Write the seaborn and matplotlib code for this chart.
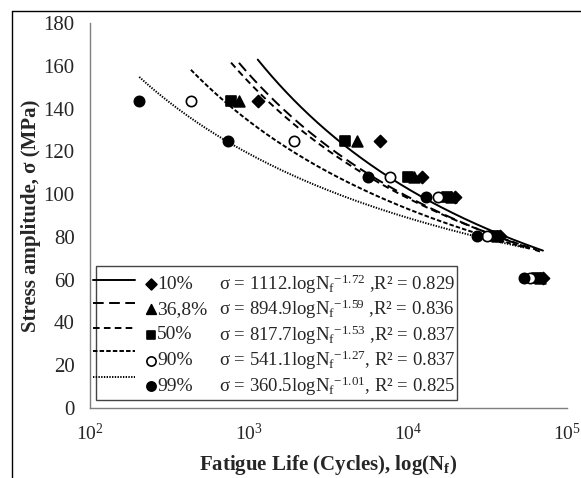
import numpy as np
import pandas as pd
import matplotlib
matplotlib.use('Agg')
from matplotlib import pyplot as plt
from matplotlib.lines import Line2D
from matplotlib.patches import Rectangle
from matplotlib.ticker import LogLocator, NullLocator, MultipleLocator
import seaborn as sns

# probability levels and fitted curves sigma = A * (log Nf)^B
probs = ['10%', '36,8%', '50%', '90%', '99%']
coef_a = [1112, 894.9, 817.7, 541.1, 360.5]
coef_b = [-1.72, -1.59, -1.53, -1.27, -1.01]
eq_head = ['σ = 1112.logN', 'σ = 894.9logN', 'σ = 817.7logN', 'σ = 541.1logN', 'σ = 360.5logN']
eq_tail = [' ,R² = 0.829', ' ,R² = 0.836', ' ,R² = 0.837', ', R² = 0.837', ', R² = 0.825']

# stress levels tested (MPa)
stress = [143.4, 124.8, 108.0, 98.6, 80.6, 60.6]

# fatigue life per probability level (cycles)
life_10 = [1135, 6670, 12200, 19800, 37900, 70600]
life_368 = [865, 4750, 10950, 18600, 36300, 67600]
life_50 = [771, 4020, 10000, 17600, 34700, 64700]
life_90 = [431, 1930, 7710, 15500, 31400, 58500]
life_99 = [204, 735, 5620, 12970, 27000, 53700]
lives = [life_10, life_368, life_50, life_90, life_99]

markers = ['D', '^', 's', 'o', 'o']
marker_size = [38, 60, 50, 55, 55]
face = ['black', 'black', 'black', 'white', 'black']
dash_map = {'10%': '', '36,8%': (5.5, 2.8), '50%': (3.4, 2.2), '90%': (2.3, 1.1), '99%': (0.7, 0.7)}

sns.set_style('white')
plt.rcParams['font.family'] = ['Liberation Serif', 'DejaVu Serif']
plt.rcParams['mathtext.fontset'] = 'custom'
plt.rcParams['mathtext.rm'] = 'Liberation Serif'
plt.rcParams['mathtext.it'] = 'Liberation Serif:italic'
plt.rcParams['mathtext.bf'] = 'Liberation Serif:bold'
plt.rcParams['mathtext.default'] = 'regular'

# curve table built from the fitted equations
rows = []
for p, a, b, life in zip(probs, coef_a, coef_b, lives):
    nf = np.logspace(np.log10(min(life)), np.log10(max(life)), 200)
    for n in nf:
        rows.append([p, n, a * np.log10(n) ** b])
curves = pd.DataFrame(rows, columns=['prob', 'life', 'stress'])

fig = plt.figure(figsize=(5.81, 4.78), dpi=100)
ax = fig.add_axes([90 / 581, 1 - 408 / 478, 477 / 581, 385 / 478])

sns.lineplot(data=curves, x='life', y='stress', style='prob', dashes=dash_map,
             color='black', lw=1.4, legend=False, ax=ax, estimator=None, sort=False)

for life, m, s, fc in zip(lives, markers, marker_size, face):
    sns.scatterplot(x=life, y=stress, marker=m, s=s, color=fc, edgecolor='black',
                    linewidth=1.2, ax=ax, zorder=4)

ax.set_xscale('log')
ax.set_xlim(100, 1e5)
ax.set_ylim(0, 180)
ax.xaxis.set_major_locator(LogLocator(base=10, numticks=10))
ax.xaxis.set_minor_locator(NullLocator())
ax.yaxis.set_major_locator(MultipleLocator(20))

for side in ['top', 'right']:
    ax.spines[side].set_visible(False)
for side in ['left', 'bottom']:
    ax.spines[side].set_color('#7f7f7f')
    ax.spines[side].set_linewidth(1.0)
ax.tick_params(direction='out', length=6, width=1, color='#7f7f7f', pad=5)
ax.tick_params(axis='y', labelsize=15)
ax.tick_params(axis='x', labelsize=14)

ax.set_xlabel('Fatigue Life (Cycles), log(N$_\\mathregular{f}$)', fontsize=15,
              fontweight='bold', labelpad=6)
ax.set_ylabel('Stress amplitude, σ (MPa)', fontsize=15, fontweight='bold', labelpad=2)

# hand-made legend box
ax.add_patch(Rectangle((0.0126, 0.021), 0.757, 0.348, transform=ax.transAxes,
                       facecolor='white', edgecolor='#444444', lw=1, zorder=5))
text_y = [0.322, 0.256, 0.190, 0.123, 0.057]
line_y = [0.332, 0.273, 0.208, 0.148, 0.081]
for i, p in enumerate(probs):
    d = dash_map[p]
    ls = '-' if d == '' else (0, d)
    ax.add_line(Line2D([0.006, 0.094], [line_y[i], line_y[i]], transform=ax.transAxes,
                       color='black', lw=1.4, linestyle=ls, zorder=6))
    ax.scatter([0.128], [text_y[i]], transform=ax.transAxes, marker=markers[i],
               s=marker_size[i] * 0.8, c=face[i], edgecolors='black', linewidths=1.2, zorder=6)
    ax.text(0.141, text_y[i], p, transform=ax.transAxes, fontsize=14,
            va='center', ha='left', zorder=7)
    ax.text(0.27, text_y[i],
            eq_head[i] + '$_\\mathregular{f}$$^{%s}$' % ('%.2f' % coef_b[i]) + eq_tail[i],
            transform=ax.transAxes, fontsize=13.5, va='center', ha='left', zorder=7)

# outer frame (top and left edges visible)
fig.add_artist(Line2D([12 / 581, 1], [1 - 11 / 478, 1 - 11 / 478], color='black', lw=1))
fig.add_artist(Line2D([12 / 581, 12 / 581], [0, 1 - 11 / 478], color='black', lw=1))

fig.savefig('out.png', dpi=100)
plt.close()
